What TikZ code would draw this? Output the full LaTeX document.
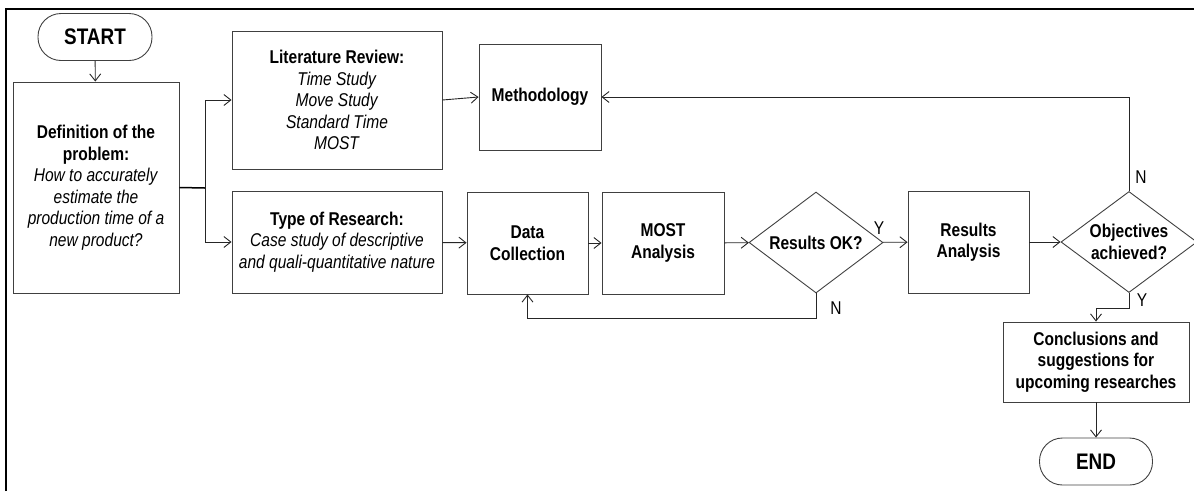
\documentclass[tikz,border=0pt]{standalone}
\usepackage{fontspec}
\setmainfont{Liberation Sans}[FakeStretch=0.84]
\usetikzlibrary{shapes.geometric,arrows.meta}
\begin{document}
\begin{tikzpicture}[x=1pt, y=-1pt, line width=0.9pt, every node/.style={font=\fontsize{18.5}{21.5}\selectfont}]
    \tikzstyle{blk}=[draw=black!75, rectangle, inner sep=0pt, align=center]
    \tikzstyle{term}=[draw=black!75, rectangle, rounded corners=23pt, inner sep=0pt, minimum width=114pt, minimum height=47pt, font=\fontsize{22.5}{26}\selectfont\bfseries]
    \tikzstyle{dec}=[draw=black!75, diamond, aspect=1.35, inner sep=0pt, align=center, minimum height=101pt]
    \tikzstyle{marr}=[draw=black!85, -{Straight Barb[length=7pt,width=11pt]}]
    \tikzstyle{lbl}=[inner sep=0pt]

    \useasboundingbox (0,0) rectangle (1194,491);
    \draw[line width=2pt] (6,491) -- (6,9) -- (1194,9);

    \node[term] (start) at (95,37) {START};
    \node[blk, minimum width=166pt, minimum height=211pt] (def) at (96,187.5)
        {\textbf{Definition of the}\\\textbf{problem:}\\\textit{How to accurately}\\\textit{estimate the}\\\textit{production time of a}\\\textit{new product?}};
    \node[blk, minimum width=210pt, minimum height=138pt] (lit) at (337,100)
        {\textbf{Literature Review:}\\\textit{Time Study}\\\textit{Move Study}\\\textit{Standard Time}\\\textit{MOST}};
    \node[blk, minimum width=210pt, minimum height=102pt] (type) at (337,242)
        {\textbf{Type of Research:}\\\textit{Case study of descriptive}\\\textit{and quali-quantitative nature}};
    \node[blk, minimum width=122pt, minimum height=106pt] (meth) at (540,97) {\textbf{Methodology}};
    \node[blk, minimum width=121pt, minimum height=102pt] (data) at (527.5,243) {\textbf{Data}\\\textbf{Collection}};
    \node[blk, minimum width=122pt, minimum height=102pt] (most) at (663,243) {\textbf{MOST}\\\textbf{Analysis}};
    \node[dec, minimum width=134pt] (ok) at (816,242.5) {\textbf{Results OK?}};
    \node[blk, minimum width=121pt, minimum height=102pt] (ra) at (968.5,242) {\textbf{Results}\\\textbf{Analysis}};
    \node[dec, minimum width=136pt] (obj) at (1129,242) {\textbf{Objectives}\\\textbf{achieved?}};
    \node[blk, minimum width=186pt, minimum height=80pt] (concl) at (1096,362)
        {\textbf{Conclusions and}\\\textbf{suggestions for}\\\textbf{upcoming researches}};
    \node[term, minimum width=113pt] (end) at (1096,461.5) {END};

    \coordinate (jn) at (205,188);
    \draw[marr] (start) -- (def);
    \draw[line width=1.5pt] (def.east) -- (jn);
    \draw[marr] (jn) |- (lit.west);
    \draw[marr] (jn) |- (type.west);
    \draw[marr] (lit.east) -- (meth.west);
    \draw[marr] (type) -- (data);
    \draw[marr] (data) -- (most);
    \draw[marr] (most) -- (ok);
    \draw[marr] (ok) -- (ra);
    \draw[marr] (ra) -- (obj);
    \draw[marr] (ok.south) -- ++(0,25) -| (data.south);
    \draw[marr] (obj.north) |- (meth.east);
    \draw[marr] (obj.south) -- ++(0,15) -| (concl.north);
    \draw[marr] (concl) -- (end);

    \node[lbl] (yok) at (879,228) {Y};
    \node[lbl] (nok) at (836,308) {N};
    \node[lbl] (nobj) at (1141,177) {N};
    \node[lbl] (yobj) at (1142,300) {Y};

\end{tikzpicture}
\end{document}
